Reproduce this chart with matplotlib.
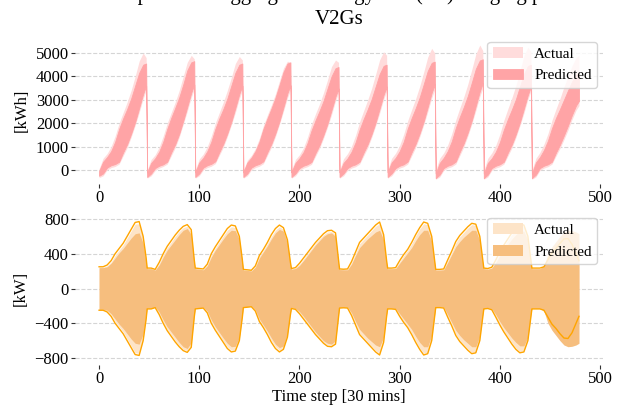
import numpy as np
import matplotlib
matplotlib.use("Agg")
import matplotlib.pyplot as plt

plt.rcParams["font.family"] = ["Liberation Serif", "DejaVu Serif"]

# time steps inside each 48-step (one day) cycle where values were read
cycle_len = 48
offsets = [0, 4, 8, 12, 16, 20, 24, 28, 32, 36, 40, 44, 47]

# aggregated energy [kWh], one row per day
energy_act_hi = [
    [50, 500, 700, 1000, 1450, 2000, 2450, 2900, 3400, 4000, 4650, 5000, 4800],
    [0, 450, 650, 980, 1450, 2000, 2450, 2900, 3400, 4000, 4600, 4900, 4750],
    [0, 470, 680, 1000, 1450, 2000, 2450, 2900, 3400, 3950, 4550, 4850, 4700],
    [0, 420, 620, 920, 1350, 1900, 2350, 2780, 3250, 3800, 4350, 4650, 4600],
    [0, 450, 650, 950, 1400, 1950, 2400, 2820, 3300, 3850, 4420, 4700, 4600],
    [0, 480, 700, 1020, 1480, 2050, 2520, 2980, 3480, 4080, 4700, 5050, 4900],
    [0, 500, 720, 1050, 1520, 2100, 2580, 3050, 3570, 4180, 4820, 5200, 5000],
    [0, 500, 730, 1070, 1550, 2140, 2640, 3120, 3660, 4290, 4950, 5340, 5100],
    [0, 500, 730, 1060, 1530, 2120, 2610, 3080, 3610, 4230, 4880, 5250, 5050],
    [0, 500, 750, 1100, 1550, 2120, 2600, 3050, 3550, 4000, 4450, 4800, 4900],
]
energy_act_lo = [
    [-330, -250, 0, 100, 150, 250, 600, 950, 1400, 1900, 2450, 3050, 3400],
    [-350, -250, -20, 80, 150, 250, 600, 950, 1400, 1950, 2500, 3100, 3450],
    [-350, -250, 0, 100, 160, 270, 620, 970, 1420, 1920, 2450, 3050, 3400],
    [-350, -250, 0, 100, 160, 270, 620, 970, 1420, 1940, 2500, 3080, 3420],
    [-350, -250, -20, 80, 140, 240, 580, 920, 1350, 1830, 2360, 2950, 3300],
    [-350, -250, -20, 80, 140, 250, 590, 940, 1380, 1880, 2420, 3020, 3370],
    [-350, -250, -20, 80, 140, 250, 600, 960, 1410, 1920, 2480, 3080, 3430],
    [-400, -300, -20, 80, 140, 250, 610, 980, 1440, 1960, 2530, 3140, 3500],
    [-400, -300, -20, 80, 140, 250, 590, 940, 1380, 1880, 2420, 3020, 3370],
    [-400, -300, -20, 80, 140, 250, 590, 920, 1300, 1700, 2150, 2550, 2750],
]
energy_pred_hi = [
    [-50, 350, 550, 800, 1200, 1750, 2200, 2600, 3050, 3600, 4150, 4500, 4550],
    [-100, 300, 500, 780, 1200, 1750, 2220, 2650, 3100, 3650, 4250, 4600, 4650],
    [-100, 320, 520, 800, 1200, 1750, 2200, 2600, 3050, 3600, 4150, 4500, 4550],
    [-100, 320, 520, 800, 1200, 1750, 2200, 2620, 3080, 3620, 4180, 4550, 4600],
    [-100, 300, 500, 760, 1150, 1680, 2120, 2520, 2950, 3480, 4000, 4350, 4400],
    [-100, 300, 500, 780, 1180, 1720, 2170, 2580, 3020, 3560, 4100, 4450, 4500],
    [-100, 320, 520, 800, 1200, 1760, 2220, 2640, 3100, 3660, 4230, 4580, 4630],
    [-150, 300, 520, 810, 1220, 1790, 2260, 2690, 3160, 3730, 4320, 4680, 4730],
    [-150, 300, 500, 780, 1180, 1720, 2170, 2580, 3020, 3560, 4100, 4450, 4500],
    [-150, 320, 550, 850, 1250, 1780, 2220, 2600, 3000, 3400, 3780, 4080, 4150],
]
energy_pred_lo = [
    [-250, -150, 100, 200, 250, 350, 750, 1100, 1550, 2050, 2650, 3250, 3600],
    [-300, -150, 80, 180, 240, 350, 750, 1100, 1550, 2100, 2700, 3300, 3650],
    [-300, -150, 100, 200, 260, 370, 760, 1120, 1560, 2060, 2650, 3250, 3600],
    [-300, -150, 100, 200, 260, 370, 760, 1120, 1570, 2080, 2680, 3280, 3620],
    [-300, -150, 80, 180, 240, 340, 720, 1060, 1500, 1980, 2560, 3140, 3480],
    [-300, -150, 80, 180, 240, 350, 740, 1090, 1530, 2030, 2620, 3210, 3560],
    [-300, -150, 80, 180, 240, 360, 760, 1120, 1570, 2080, 2690, 3300, 3650],
    [-350, -200, 80, 180, 240, 360, 770, 1140, 1600, 2120, 2740, 3360, 3720],
    [-350, -200, 80, 180, 240, 350, 740, 1090, 1530, 2030, 2620, 3210, 3560],
    [-350, -200, 80, 180, 240, 350, 740, 1080, 1480, 1900, 2350, 2750, 2950],
]

# aggregated (dis)charging power envelope [kW], band is +/- these values
power_limit = [
    [250, 250, 270, 320, 400, 460, 520, 600, 680, 760, 770, 600, 350],
    [235, 235, 220, 300, 400, 485, 550, 615, 670, 715, 735, 677, 330],
    [235, 230, 225, 280, 400, 480, 550, 620, 690, 730, 720, 600, 330],
    [220, 215, 210, 260, 380, 450, 530, 620, 690, 730, 700, 560, 300],
    [230, 240, 290, 350, 410, 470, 530, 580, 630, 665, 670, 640, 320],
    [225, 222, 225, 310, 420, 530, 580, 630, 680, 730, 765, 620, 320],
    [235, 235, 240, 320, 390, 450, 530, 620, 700, 765, 750, 600, 320],
    [220, 220, 225, 330, 430, 540, 610, 660, 710, 750, 740, 600, 320],
    [235, 230, 245, 330, 420, 500, 570, 640, 700, 740, 730, 600, 320],
    [235, 235, 235, 250, 330, 410, 460, 520, 570, 575, 510, 400, 320],
]
power_act = [
    [245, 245, 260, 305, 380, 440, 500, 580, 660, 740, 745, 580, 330],
    [230, 230, 215, 290, 390, 470, 535, 600, 655, 700, 715, 650, 310],
    [230, 225, 220, 275, 385, 465, 535, 605, 670, 710, 700, 580, 310],
    [215, 210, 205, 255, 370, 440, 515, 600, 670, 710, 680, 540, 280],
    [225, 235, 280, 340, 400, 460, 520, 570, 620, 650, 655, 620, 300],
    [220, 218, 220, 300, 405, 515, 565, 615, 665, 715, 745, 600, 300],
    [230, 230, 235, 310, 380, 440, 515, 605, 685, 745, 735, 580, 300],
    [215, 215, 220, 320, 415, 525, 595, 645, 695, 735, 725, 580, 300],
    [230, 225, 240, 320, 410, 490, 555, 625, 685, 725, 715, 580, 300],
    [230, 230, 230, 260, 350, 430, 480, 530, 570, 575, 540, 480, 400],
]
power_pred = [
    [240, 240, 250, 290, 350, 410, 460, 520, 580, 630, 640, 520, 300],
    [228, 228, 212, 270, 360, 440, 500, 560, 620, 670, 690, 620, 300],
    [228, 222, 215, 260, 360, 440, 505, 570, 630, 670, 665, 560, 300],
    [212, 208, 202, 245, 350, 420, 490, 570, 640, 680, 660, 520, 270],
    [222, 230, 265, 320, 380, 440, 500, 550, 600, 630, 640, 600, 290],
    [218, 215, 215, 280, 380, 470, 520, 570, 610, 650, 670, 560, 290],
    [228, 228, 230, 290, 350, 410, 470, 550, 620, 670, 670, 540, 290],
    [212, 212, 215, 300, 390, 480, 540, 590, 630, 670, 670, 550, 290],
    [228, 222, 235, 300, 380, 450, 510, 570, 620, 660, 660, 560, 290],
    [228, 228, 228, 260, 400, 480, 540, 600, 650, 670, 665, 650, 630],
]

n_cycles = len(energy_act_hi)
t = (np.arange(n_cycles)[:, None] * cycle_len + np.array(offsets)[None, :]).ravel()


def flat(rows):
    return np.asarray(rows, dtype=float).ravel()


fig = plt.figure(figsize=(6.38, 4.05), dpi=100)
ax1 = fig.add_axes([0.1176, 0.5457, 0.8276, 0.3654])
ax2 = fig.add_axes([0.1176, 0.0988, 0.8276, 0.3777])

# energy
ax1.fill_between(t, flat(energy_act_lo), flat(energy_act_hi), color="#ffdcdc", lw=0, label="Actual")
ax1.fill_between(t, flat(energy_pred_lo), flat(energy_pred_hi), facecolor="#ffa4a6",
                 edgecolor="#ffa4a6", lw=0.6, label="Predicted")
ax1.set_ylim(-600, 5725)
ax1.set_yticks([0, 1000, 2000, 3000, 4000, 5000])
ax1.set_ylabel("[kWh]", fontsize=12)
ax1.set_title("Actual and predicted aggregated energy and (dis)charging power of the\nV2Gs",
              fontsize=15, pad=8.5, linespacing=1.35)

# power
p_lim = flat(power_limit)
p_act = flat(power_act)
p_pred = flat(power_pred)
ax2.fill_between(t, -p_act, p_act, color="#fde4c8", lw=0, label="Actual")
ax2.fill_between(t, -p_pred, p_pred, color="#f6be7e", lw=0, label="Predicted")
ax2.plot(t, p_lim, color="orange", lw=1.0)
ax2.plot(t, -p_lim, color="orange", lw=1.0)
ax2.set_ylim(-880, 880)
ax2.set_yticks([-800, -400, 0, 400, 800])
ax2.set_ylabel("[kW]", fontsize=12)
ax2.set_xlabel("Time step [30 mins]", fontsize=12, labelpad=1)

for ax in (ax1, ax2):
    ax.set_xlim(-24, 503)
    ax.set_xticks([0, 100, 200, 300, 400, 500])
    for s in ax.spines.values():
        s.set_visible(False)
    ax.grid(axis="y", ls="--", color="#d5d5d5", lw=0.8)
    ax.set_axisbelow(True)
    ax.tick_params(labelsize=12, length=3, width=0.8, color="#333333", pad=1.5)
    ax.legend(loc="upper right", fontsize=11, framealpha=0.8, borderaxespad=0.4,
              borderpad=0.35, handletextpad=0.7)

fig.savefig("out.png", dpi=100)
plt.close(fig)
